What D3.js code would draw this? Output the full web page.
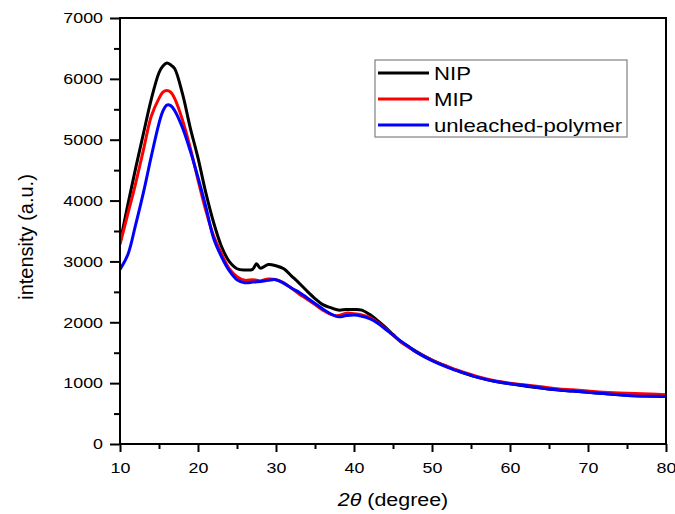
<!DOCTYPE html>
<html>
<head>
<meta charset="utf-8">
<script src="https://cdn.jsdelivr.net/npm/d3@7"></script>
<style>
  body { margin: 0; background: #fff; }
  text { font-family: "Liberation Sans", Arial, sans-serif; fill: #000; }
</style>
</head>
<body>
<div id="chart"></div>
<script>
// 2theta positions (degree), shared by all three patterns
const twoTheta = [10, 11, 12, 13, 14, 15, 15.5, 16, 16.5, 17, 18, 19, 20, 21, 22, 23, 24, 25, 26, 27, 27.5,
  28, 29, 30, 31, 32, 33, 34, 35, 36, 37, 38, 39, 40, 41, 42, 43, 44, 45, 46, 47, 48,
  50, 52, 54, 56, 58, 60, 62, 64, 66, 68, 70, 72, 74, 76, 78, 80];

const nip = [3300, 3930, 4530, 5100, 5660, 6100, 6210, 6260, 6230, 6170, 5760, 5200, 4700, 4130, 3640, 3250, 3000, 2880, 2860, 2870, 2960,
  2890, 2950, 2930, 2880, 2760, 2640, 2510, 2390, 2290, 2240, 2200, 2210, 2210, 2200, 2130, 2030, 1920, 1800, 1680, 1600, 1520,
  1380, 1270, 1170, 1090, 1030, 990, 950, 920, 890, 870, 850, 830, 810, 800, 790, 780];

const mip = [3280, 3780, 4280, 4830, 5380, 5680, 5780, 5810, 5780, 5680, 5330, 4870, 4340, 3840, 3420, 3130, 2880, 2750, 2690, 2700, 2690,
  2680, 2710, 2700, 2650, 2560, 2460, 2380, 2290, 2200, 2130, 2110, 2150, 2140, 2120, 2080, 2000, 1900, 1790, 1680, 1590, 1510,
  1380, 1270, 1180, 1100, 1040, 1000, 970, 940, 910, 890, 870, 850, 840, 830, 820, 810];

const unleached = [2870, 3110, 3600, 4130, 4720, 5270, 5470, 5570, 5560, 5480, 5200, 4820, 4380, 3900, 3380, 3080, 2850, 2700, 2650, 2660, 2665,
  2670, 2690, 2700, 2640, 2560, 2490, 2400, 2310, 2220, 2140, 2090, 2110, 2120, 2100, 2060, 1990, 1890, 1790, 1690, 1600, 1510,
  1370, 1260, 1170, 1090, 1030, 990, 960, 920, 890, 870, 850, 830, 810, 790, 785, 780];

const seriesNames = ["NIP", "MIP", "unleached-polymer"];
const seriesColors = ["#000000", "#ff0000", "#0000ff"];
const xMajor = [10, 20, 30, 40, 50, 60, 70, 80];
const xMinor = [15, 25, 35, 45, 55, 65, 75];
const yMajor = [0, 1000, 2000, 3000, 4000, 5000, 6000, 7000];
const yMinor = [500, 1500, 2500, 3500, 4500, 5500, 6500];

const series = [nip, mip, unleached].map((vals, i) => ({
  name: seriesNames[i],
  color: seriesColors[i],
  values: twoTheta.map((t, j) => ({x: t, y: vals[j]}))
}));

// layout
var
  margin = {top: 18, right: 9, bottom: 70, left: 120},
  width = 675 - margin.left - margin.right,
  height = 514 - margin.top - margin.bottom;

const sx = 1.19; // the source picture is a bit wider than tall in its lettering

var svg = d3.select("#chart").append("svg")
    .attr("width", 675)
    .attr("height", 514)
  .append("g")
    .attr("transform", "translate(" + margin.left + "," + margin.top + ")");

var x = d3.scaleLinear().domain([10, 80]).range([0, width]);
var y = d3.scaleLinear().domain([0, 7000]).range([height, 0]);

// curves
svg.append("clipPath").attr("id", "clip")
  .append("rect").attr("width", width).attr("height", height);

var line = d3.line()
  .x(d => x(d.x))
  .y(d => y(d.y))
  .curve(d3.curveCatmullRom.alpha(0.5));

svg.append("g").attr("clip-path", "url(#clip)")
  .selectAll("path")
  .data(series)
  .join("path")
    .attr("d", d => line(d.values))
    .attr("fill", "none")
    .attr("stroke", d => d.color)
    .attr("stroke-width", 3)
    .attr("stroke-linejoin", "round");

// axes
function styleAxis(g) {
  g.select(".domain").remove();
  g.selectAll(".tick line").attr("stroke", "#000").attr("stroke-width", 2);
  g.selectAll("text").style("font-size", "15px").attr("fill", "#000");
}

svg.append("g")
    .attr("transform", "translate(0," + height + ")")
    .call(d3.axisBottom(x).tickValues(xMajor).tickSize(8).tickPadding(10).tickFormat(d3.format("d")))
    .call(styleAxis)
    .call(g => g.selectAll("text").attr("transform", "scale(" + sx + ",1)"));

svg.append("g")
    .attr("transform", "translate(0," + height + ")")
    .call(d3.axisBottom(x).tickValues(xMinor).tickSize(5).tickFormat(""))
    .call(styleAxis);

svg.append("g")
    .call(d3.axisLeft(y).tickValues(yMajor).tickSize(10).tickFormat(d3.format("d")))
    .call(styleAxis)
    .call(g => g.selectAll("text").attr("x", -17 / sx).attr("transform", "scale(" + sx + ",1)"));

svg.append("g")
    .call(d3.axisLeft(y).tickValues(yMinor).tickSize(6).tickFormat(""))
    .call(styleAxis);

// frame
svg.append("rect")
  .attr("width", width)
  .attr("height", height)
  .attr("fill", "none")
  .attr("stroke", "#000")
  .attr("stroke-width", 2);

// axis titles
var xt = svg.append("text")
  .attr("transform", "translate(" + (width / 2) + "," + (height + 62) + ") scale(" + sx + ",1)")
  .attr("text-anchor", "middle")
  .style("font-size", "18px");
xt.append("tspan").style("font-style", "italic").text("2θ");
xt.append("tspan").text(" (degree)");

svg.append("text")
  .attr("transform", "translate(" + (33 - margin.left) + "," + (height / 2 + 6) + ") rotate(-90)")
  .attr("text-anchor", "middle")
  .style("font-size", "20px")
  .text("intensity (a.u.)");

// legend
var lg = svg.append("g").attr("transform", "translate(" + (375 - margin.left) + "," + (60 - margin.top) + ")");
lg.append("rect")
  .attr("width", 252)
  .attr("height", 77)
  .attr("fill", "#fff")
  .attr("stroke", "#808080")
  .attr("stroke-width", 1.2);

var item = lg.selectAll(".item")
  .data(series)
  .join("g")
    .attr("class", "item")
    .attr("transform", (d, i) => "translate(0," + (13 + i * 26) + ")");

item.append("line")
  .attr("x1", 3).attr("x2", 54)
  .attr("stroke", d => d.color)
  .attr("stroke-width", 3);

item.append("text")
  .attr("transform", "translate(59,7) scale(" + sx + ",1)")
  .style("font-size", "18.6px")
  .text(d => d.name);
</script>
</body>
</html>
